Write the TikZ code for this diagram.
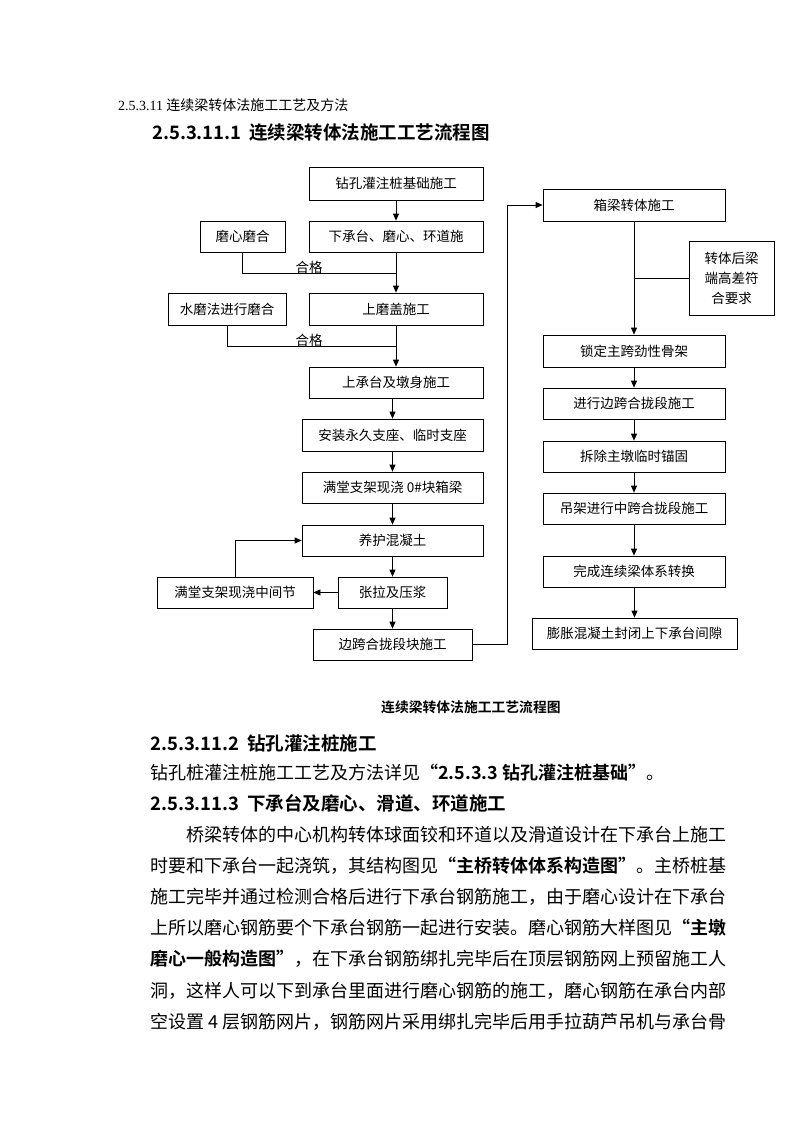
\documentclass[tikz,border=0pt]{standalone}
\usepackage{fontspec}
\setmainfont[BoldFont={Noto Sans CJK SC Bold}]{Noto Sans CJK SC}
\newfontfamily\tms{Liberation Serif}
\usetikzlibrary{arrows.meta}
\newcommand\flowfont{\fontsize{13.5}{20}\selectfont}
\newcommand\bodyfont{\fontsize{18}{20}\selectfont}
\newcommand\headfont{\bfseries\fontsize{18.5}{20}\selectfont}
\begin{document}
\begin{tikzpicture}[x=1pt,y=-1pt,
  box/.style={draw, line width=0.75pt, inner sep=0pt, font=\flowfont, align=center},
  ln/.style={line width=0.75pt},
  arr/.style={line width=0.75pt, -{Triangle[length=7pt,width=6pt]}},
  txt/.style={inner sep=0pt, anchor=west},
  lbl/.style={inner sep=0pt, font=\flowfont},
]
\fill[white] (0,0) rectangle (800,1132);
\useasboundingbox (0,0) rectangle (800,1132);

% headings
\node[txt, font=\fontsize{14}{16}\selectfont] (h0) at (118,105) {{\tms 2.5.3.11} 连续梁转体法施工工艺及方法};
\node[txt, font=\headfont] (h1) at (152,133) {2.5.3.11.1\hspace{0.4em}连续梁转体法施工工艺流程图};

% left column
\node[box, minimum width=174pt, minimum height=33pt] (b1) at (396,183.5) {钻孔灌注桩基础施工};
\node[box, minimum width=174pt, minimum height=31pt] (b2) at (396,236.5) {下承台、磨心、环道施};
\node[box, minimum width=85pt, minimum height=31pt] (m1) at (242.5,236.5) {磨心磨合};
\node[box, minimum width=174pt, minimum height=32pt] (b3) at (396,309) {上磨盖施工};
\node[box, minimum width=118pt, minimum height=32pt] (m2) at (227,309) {水磨法进行磨合};
\node[box, minimum width=174pt, minimum height=31pt] (b4) at (396,382.5) {上承台及墩身施工};
\node[box, minimum width=181pt, minimum height=32pt] (b5) at (392.5,435) {安装永久支座、临时支座};
\node[box, minimum width=181pt, minimum height=31pt] (b6) at (392.5,487.5) {满堂支架现浇 0\#块箱梁};
\node[box, minimum width=181pt, minimum height=31pt] (b7) at (392.5,540.5) {养护混凝土};
\node[box, minimum width=109pt, minimum height=31pt] (b8) at (392.5,592.5) {张拉及压浆};
\node[box, minimum width=156pt, minimum height=31pt] (m3) at (235,592.5) {满堂支架现浇中间节};
\node[box, minimum width=159pt, minimum height=31pt] (b9) at (392.5,644.5) {边跨合拢段块施工};

\coordinate (j1) at (396,273);
\coordinate (j2) at (396,346);
\node[lbl] (g1) at (309,267) {合格};
\node[lbl] (g2) at (309,340) {合格};

\draw[arr] (b1.south) -- (b2.north);
\draw[arr] (b2.south) -- (b3.north);
\draw[ln] (m1.south) |- (j1);
\draw[arr] (b3.south) -- (b4.north);
\draw[ln] (m2.south) |- (j2);
\draw[arr] (b4.south -| b5.north) -- (b5.north);
\draw[arr] (b5.south) -- (b6.north);
\draw[arr] (b6.south) -- (b7.north);
\draw[arr] (b7.south) -- (b8.north);
\draw[arr] (b8.west) -- (m3.east);
\draw[arr] (m3.north) |- (b7.west);
\draw[arr] (b8.south) -- (b9.north);

% right column
\node[box, minimum width=182pt, minimum height=32pt] (r1) at (634,205) {箱梁转体施工};
\node[box, minimum width=85pt, minimum height=74pt] (s1) at (731.5,278) {转体后梁\\端高差符\\合要求};
\node[box, minimum width=182pt, minimum height=32pt] (r2) at (634,351) {锁定主跨劲性骨架};
\node[box, minimum width=182pt, minimum height=31pt] (r3) at (634,403.5) {进行边跨合拢段施工};
\node[box, minimum width=182pt, minimum height=31pt] (r4) at (634,456.5) {拆除主墩临时锚固};
\node[box, minimum width=182pt, minimum height=31pt] (r5) at (634,508.5) {吊架进行中跨合拢段施工};
\node[box, minimum width=182pt, minimum height=31pt] (r6) at (634,571.5) {完成连续梁体系转换};
\node[box, minimum width=205pt, minimum height=31pt] (r7) at (634.5,633.5) {膨胀混凝土封闭上下承台间隙};

\coordinate (t1) at (507,644.5);
\draw[arr] (b9.east) -- (t1) |- (r1.west);
\draw[arr] (r1.south) -- (r2.north);
\draw[ln] (s1.west) -- (s1.west -| r1.south);
\draw[arr] (r2.south) -- (r3.north);
\draw[arr] (r3.south) -- (r4.north);
\draw[arr] (r4.south) -- (r5.north);
\draw[arr] (r5.south) -- (r6.north);
\draw[arr] (r6.south -| r7.north) -- (r7.north);

% caption and text
\node[txt, font=\bfseries\fontsize{13.8}{16}\selectfont] (cap) at (381,707) {连续梁转体法施工工艺流程图};
\node[txt, font=\headfont] (h2) at (150,743) {2.5.3.11.2\hspace{0.4em}钻孔灌注桩施工};
\node[txt, font=\bodyfont] (p0) at (150,773) {钻孔桩灌注桩施工工艺及方法详见{\bfseries “2.5.3.3 钻孔灌注桩基础”}。};
\node[txt, font=\headfont] (h3) at (150,803) {2.5.3.11.3\hspace{0.4em}下承台及磨心、滑道、环道施工};
\node[txt, font=\bodyfont] (l1) at (186,835) {桥梁转体的中心机构转体球面铰和环道以及滑道设计在下承台上施工};
\node[txt, font=\bodyfont] (l2) at (150,866) {时要和下承台一起浇筑，其结构图见{\bfseries “主桥转体体系构造图”}。主桥桩基};
\node[txt, font=\bodyfont] (l3) at (150,897) {施工完毕并通过检测合格后进行下承台钢筋施工，由于磨心设计在下承台};
\node[txt, font=\bodyfont] (l4) at (150,928) {上所以磨心钢筋要个下承台钢筋一起进行安装。磨心钢筋大样图见{\bfseries “主墩}};
\node[txt, font=\bodyfont] (l5) at (150,959) {{\bfseries 磨心一般构造图”}，在下承台钢筋绑扎完毕后在顶层钢筋网上预留施工人};
\node[txt, font=\bodyfont] (l6) at (150,991) {洞，这样人可以下到承台里面进行磨心钢筋的施工，磨心钢筋在承台内部};
\node[txt, font=\bodyfont] (l7) at (150,1022) {空设置 4 层钢筋网片，钢筋网片采用绑扎完毕后用手拉葫芦吊机与承台骨};
\end{tikzpicture}
\end{document}
